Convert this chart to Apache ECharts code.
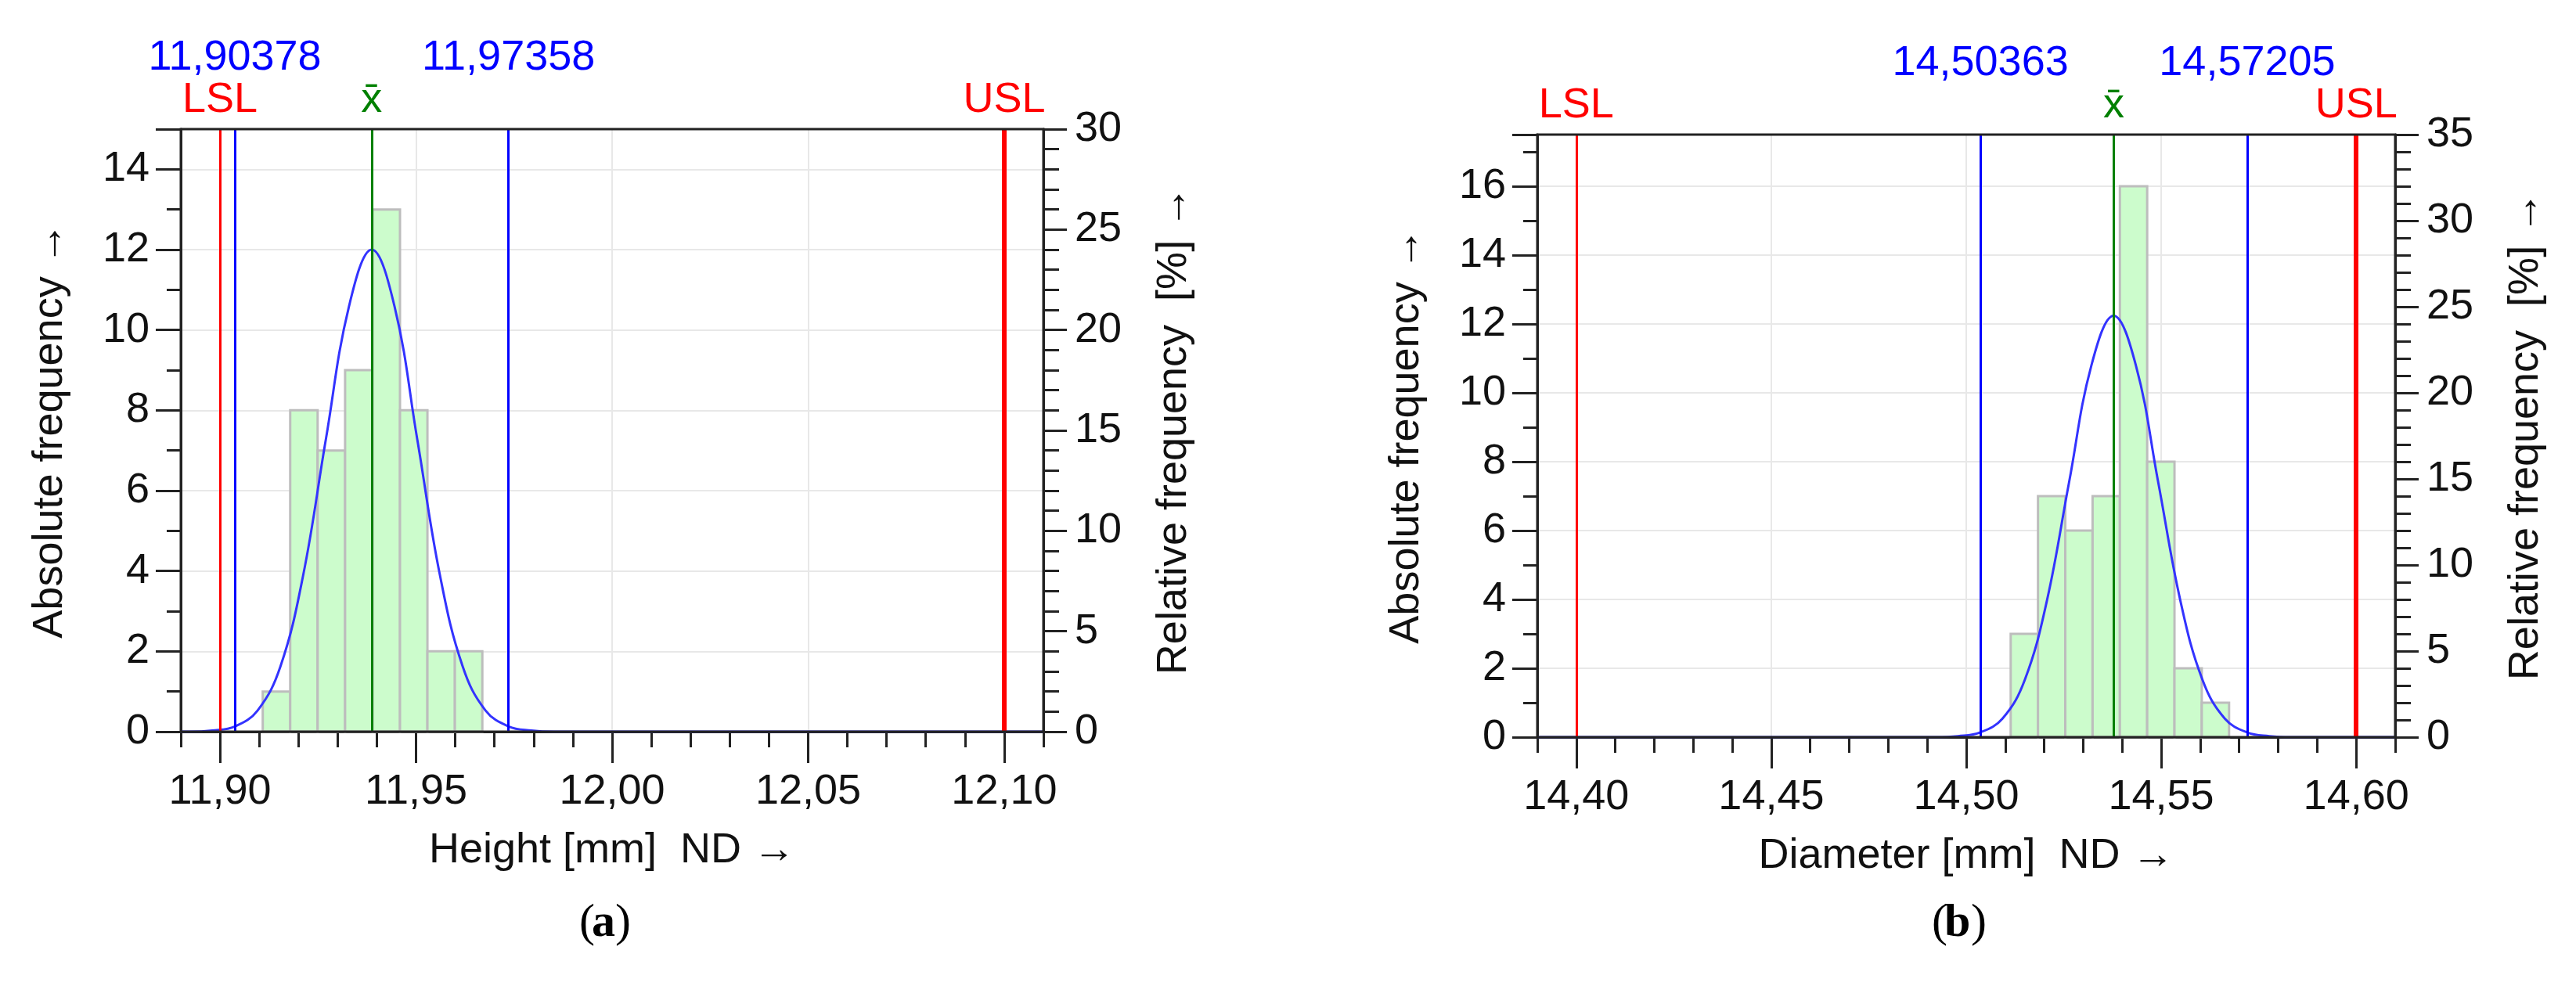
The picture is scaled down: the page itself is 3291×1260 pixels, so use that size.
<!DOCTYPE html>
<html><head><meta charset="utf-8">
<script src="https://cdn.jsdelivr.net/npm/echarts@6/dist/echarts.min.js"></script>
<style>html,body{margin:0;padding:0;background:#fff}#c{width:3291px;height:1260px}</style>
</head><body><div id="c"></div>
<script>
// ---- Chart (a): Height ----
const aBinStart = [11.9109, 11.9179, 11.9249, 11.9319, 11.9389, 11.9459, 11.9529, 11.9599];
const aBinWidth = 0.0070;
const aCounts = [1, 8, 7, 9, 13, 8, 2, 2];
const aCurveX = [11.89, 11.8922, 11.8980, 11.9038, 11.9096, 11.9154, 11.9212, 11.9270, 11.9329, 11.9387, 11.9445, 11.9503, 11.9561, 11.9619, 11.9677, 11.9736, 11.9794, 11.9852, 12.11];
const aCurveY = [0, 0.00, 0.03, 0.13, 0.53, 1.62, 3.89, 7.28, 10.59, 12.0, 10.59, 7.28, 3.89, 1.62, 0.53, 0.13, 0.03, 0.00, 0];
const aLimits = {LSL: 11.90, USL: 12.10, low: 11.90378, high: 11.97358, mean: 11.93868};
const aMajor = [11.90, 11.95, 12.00, 12.05, 12.10];
const aMinor = [11.89,11.90,11.91,11.92,11.93,11.94,11.95,11.96,11.97,11.98,11.99,12.00,12.01,12.02,12.03,12.04,12.05,12.06,12.07,12.08,12.09,12.10,12.11];
// ---- Chart (b): Diameter ----
const bBinStart = [14.5114, 14.5184, 14.5254, 14.5324, 14.5394, 14.5464, 14.5534, 14.5604];
const bBinWidth = 0.0070;
const bCounts = [3, 7, 6, 7, 16, 8, 2, 1];
const bCurveX = [14.39, 14.4922, 14.4979, 14.5036, 14.5093, 14.5150, 14.5207, 14.5264, 14.5321, 14.5378, 14.5435, 14.5492, 14.5549, 14.5606, 14.5663, 14.5720, 14.5777, 14.5834, 14.61];
const bCurveY = [0, 0.00, 0.03, 0.14, 0.54, 1.66, 3.97, 7.42, 10.80, 12.24, 10.80, 7.42, 3.97, 1.66, 0.54, 0.14, 0.03, 0.00, 0];
const bLimits = {LSL: 14.40, USL: 14.60, low: 14.50363, high: 14.57205, mean: 14.53784};
const bMajor = [14.40, 14.45, 14.50, 14.55, 14.60];
const bMinor = [14.39,14.40,14.41,14.42,14.43,14.44,14.45,14.46,14.47,14.48,14.49,14.50,14.51,14.52,14.53,14.54,14.55,14.56,14.57,14.58,14.59,14.60,14.61];

const FONT = 'Liberation Sans';
const FS = 54;
const fmt = v => v.toFixed(2).replace('.', ',');
const fmt5 = v => v.toFixed(5).replace('.', ',');

function build(idx, cfg) {
  const xs = [], ys = [], series = [];
  const baseX = {
    gridIndex: idx, type: 'value', min: cfg.min, max: cfg.max, position: 'bottom'
  };
  xs.push(Object.assign({}, baseX, {
    name: cfg.xName, nameLocation: 'middle', nameGap: 125,
    nameTextStyle: {fontFamily: FONT, fontSize: FS, color: '#111'},
    axisLine: {show: true, lineStyle: {color: '#222', width: 3}},
    axisTick: {show: true, length: 40, lineStyle: {color: '#222', width: 3}, customValues: cfg.major},
    axisLabel: {show: true, fontFamily: FONT, fontSize: FS, color: '#111', margin: 50, formatter: fmt, customValues: cfg.major},
    splitLine: {show: true, lineStyle: {color: '#e8e8e8', width: 2}}
  }));
  xs.push(Object.assign({}, baseX, {
    axisLine: {show: false},
    axisTick: {show: true, length: 20, lineStyle: {color: '#222', width: 3}, customValues: cfg.minor},
    axisLabel: {show: false}, splitLine: {show: false}
  }));
  ys.push({
    gridIndex: idx, type: 'value', min: 0, max: cfg.yMax, interval: 2, position: 'left',
    name: 'Absolute frequency →', nameLocation: 'middle', nameGap: 140,
    nameTextStyle: {fontFamily: FONT, fontSize: FS, color: '#111'},
    axisLine: {show: true, lineStyle: {color: '#222', width: 3}},
    axisTick: {show: true, length: 32, lineStyle: {color: '#222', width: 3}},
    minorTick: {show: true, splitNumber: 2, length: 18, lineStyle: {color: '#222', width: 3}},
    axisLabel: {fontFamily: FONT, fontSize: FS, color: '#111', margin: 40, showMaxLabel: false},
    splitLine: {show: true, lineStyle: {color: '#e8e8e8', width: 2}}
  });
  ys.push({
    gridIndex: idx, type: 'value', min: 0, max: cfg.yMax * 2, interval: 5, position: 'right',
    name: 'Relative frequency  [%] →', nameLocation: 'middle', nameGap: 140,
    nameTextStyle: {fontFamily: FONT, fontSize: FS, color: '#111'},
    axisLine: {show: true, lineStyle: {color: '#222', width: 3}},
    axisTick: {show: true, length: 30, lineStyle: {color: '#222', width: 3}},
    minorTick: {show: true, splitNumber: 5, length: 20, lineStyle: {color: '#222', width: 3}},
    axisLabel: {fontFamily: FONT, fontSize: FS, color: '#111', margin: 40},
    splitLine: {show: false}
  });
  const xi = idx * 2, yi = idx * 2;
  series.push({
    type: 'custom', xAxisIndex: xi, yAxisIndex: yi, z: 2,
    data: cfg.starts.map((s, i) => [s, s + cfg.width, cfg.counts[i]]),
    renderItem: function (params, api) {
      const p0 = api.coord([api.value(0), api.value(2)]);
      const p1 = api.coord([api.value(1), 0]);
      return {type: 'rect', shape: {x: p0[0], y: p0[1], width: p1[0] - p0[0], height: p1[1] - p0[1]},
        style: {fill: '#ccfccc', stroke: '#bdbdbd', lineWidth: 3}};
    }
  });
  const lbl = (txt, color, dist) => ({show: true, position: 'end', formatter: txt, color: color,
    fontFamily: FONT, fontSize: FS, distance: dist});
  const L = cfg.limits;
  series.push({
    type: 'line', xAxisIndex: xi, yAxisIndex: yi, z: 4, smooth: 0.4, symbol: 'none',
    data: cfg.cx.map((x, i) => [x, cfg.cy[i]]),
    lineStyle: {color: '#3333ff', width: 3},
    markLine: {
      symbol: 'none', silent: true, animation: false, precision: 6,
      data: [
        {xAxis: L.LSL, lineStyle: {color: '#ff0000', width: 3, type: 'solid'}, label: lbl('LSL', '#ff0000', 10)},
        {xAxis: L.USL, lineStyle: {color: '#ff0000', width: 6, type: 'solid'}, label: lbl('USL', '#ff0000', 10)},
        {xAxis: L.low, lineStyle: {color: '#0000ff', width: 3, type: 'solid'}, label: lbl(fmt5(L.low), '#0000ff', 64)},
        {xAxis: L.high, lineStyle: {color: '#0000ff', width: 3, type: 'solid'}, label: lbl(fmt5(L.high), '#0000ff', 64)},
        {xAxis: L.mean, lineStyle: {color: '#008000', width: 3, type: 'solid'}, label: lbl('x\u0304', '#008000', 10)}
      ]
    }
  });
  return {xs, ys, series};
}

const A = build(0, {min: 11.89, max: 12.11, major: aMajor, minor: aMinor, yMax: 15, xName: 'Height [mm]  ND →',
  starts: aBinStart, width: aBinWidth, counts: aCounts, cx: aCurveX, cy: aCurveY, limits: aLimits});
const B = build(1, {min: 14.39, max: 14.61, major: bMajor, minor: bMinor, yMax: 17.5, xName: 'Diameter [mm]  ND →',
  starts: bBinStart, width: bBinWidth, counts: bCounts, cx: bCurveX, cy: bCurveY, limits: bLimits});

const chart = echarts.init(document.getElementById('c'));
chart.setOption({
  backgroundColor: '#fff', animation: false,
  grid: [
    {left: 231, right: 1958, top: 165, bottom: 325, show: true, borderColor: '#222', borderWidth: 3, z: 10},
    {left: 1964, right: 231, top: 172, bottom: 318, show: true, borderColor: '#222', borderWidth: 3, z: 10}
  ],
  xAxis: A.xs.concat(B.xs),
  yAxis: A.ys.concat(B.ys),
  series: A.series.concat(B.series),
  graphic: [
    {type: 'text', left: 740, top: 1150, style: {text: '(', font: '60px "Liberation Serif"', fill: '#000'}},
    {type: 'text', left: 756, top: 1150, style: {text: 'a', font: 'bold 60px "Liberation Serif"', fill: '#000'}},
    {type: 'text', left: 786, top: 1150, style: {text: ')', font: '60px "Liberation Serif"', fill: '#000'}},
    {type: 'text', left: 2468, top: 1150, style: {text: '(', font: '60px "Liberation Serif"', fill: '#000'}},
    {type: 'text', left: 2484, top: 1150, style: {text: 'b', font: 'bold 60px "Liberation Serif"', fill: '#000'}},
    {type: 'text', left: 2518, top: 1150, style: {text: ')', font: '60px "Liberation Serif"', fill: '#000'}}
  ]
});
</script></body></html>
